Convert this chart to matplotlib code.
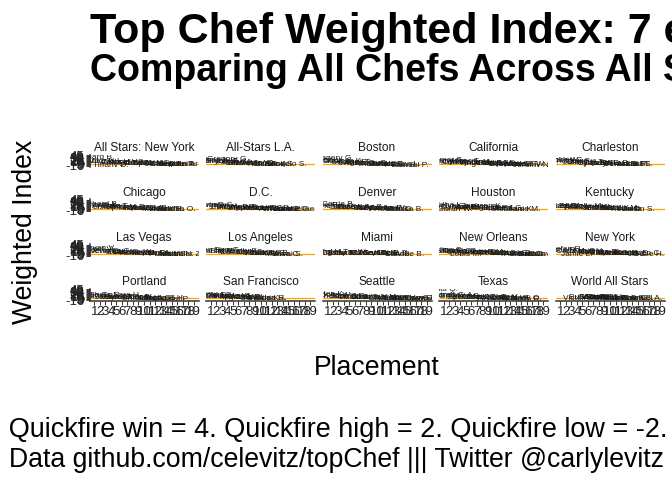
import matplotlib
matplotlib.use("Agg")
import matplotlib.pyplot as plt

plt.rcParams["font.family"] = ["Liberation Sans", "DejaVu Sans"]

# ---------------- data ----------------
season_names = ["All Stars: New York", "All-Stars L.A.", "Boston", "California", "Charleston",
                "Chicago", "D.C.", "Denver", "Houston", "Kentucky",
                "Las Vegas", "Los Angeles", "Miami", "New Orleans", "New York",
                "Portland", "San Francisco", "Seattle", "Texas", "World All Stars"]

allstars_ny_chefs = ["Richard B.", "Mike I.", "Antonia L.", "Tiffany D.", "Carla H.", "Marcel V.", "Angelo S.",
                     "Fabio V.", "Dale L.", "Tre W.", "Spike M.", "Tiffani F.", "Jamie L.", "Casey T.",
                     "Elia A.", "Stephen A.", "Dale T.", "Jennifer C."]
allstars_ny_index = [33, 14, 10, -7, 8, 6, 5, 3, 4, 1, 2, 0, -1, -2, -3, -4, -3, -5]

allstars_la_chefs = ["Melissa K.", "Stephanie C.", "Bryan V.", "Gregory G.", "Kevin G.", "Karen A.", "Brian M.",
                     "Lee Anne W.", "Jennifer C.", "Nini N.", "Lisa F.", "Jamie L.", "Eric A.", "Joe S.", "Angelo S."]
allstars_la_index = [20, 13, 10, 24, 8, 6, 3, 2, 0, -1, -2, -3, -2, -4, -5]

boston_chefs = ["Mei L.", "Gregory G.", "Doug A.", "Melissa K.", "George P.", "Katsuji T.", "Adam C.",
                "Keriann v.", "Aaron G.", "Katie W.", "Stacy C.", "James R.", "Joy C.", "Rebecca L.",
                "Ron E.", "Samuel P."]
boston_index = [18, 26, 10, 14, 6, 8, 3, 1, 2, -1, -2, -3, -4, -5, -6, -7]

california_chefs = ["Jeremy F.", "Amar S.", "Carl D.", "Kwame O.", "Isaac T.", "Marjorie M.", "Karen A.",
                    "Angelina B.", "Jason S.", "Phillip F.", "Garret F.", "Chad W.", "Grayson S.",
                    "Frances T.", "Wesley T.", "Giselle W.", "Jeremy N."]
california_index = [14, 17, 8, 9, 10, 6, 5, 3, 2, 1, 0, -2, -1, -3, -4, -5, -6]

charleston_chefs = ["Brooke W.", "Shirley C.", "Sheldon S.", "John T.", "Emily H.", "Katsuji T.", "Sylva S.",
                    "Casey T.", "Jamie L.", "Jim S.", "Silvia B.", "Gerald S.", "Amanda B.", "Annie P.",
                    "Sam T.", "BJ S."]
charleston_index = [20, 16, 14, 7, 8, 5, 4, 2, 3, 1, 0, -1, -2, -3, -4, -5]

chicago_chefs = ["Stephanie I.", "Richard B.", "Lisa F.", "Antonia L.", "Dale T.", "Spike M.", "Andrew D.",
                 "Nikki C.", "Ryan S.", "Mark G.", "Jennifer B.", "Zoi A.", "Manuel T.", "Valerie B.",
                 "Erik H.", "Nimma O."]
chicago_index = [16, 24, 7, 10, 13, 6, 5, 3, 2, 1, 0, -1, -2, -3, -4, -5]

dc_chefs = ["Kevin S.", "Angelo S.", "Ed C.", "Kelly L.", "Tiffany D.", "Amanda B.", "Alex R.", "Stephen H.",
            "Tamesha W.", "Kenny G.", "Andrea C.", "Timothy D.", "Arnold M.", "Tracey B.", "John P.",
            "Lynne G.", "Jacqueline L."]
dc_index = [15, 18, 8, 10, 7, 6, 5, 3, 2, 1, 0, -1, -2, -3, -4, -5, -6]

denver_chefs = ["Joe F.", "Adrienne C.", "Carrie B.", "Chris S.", "Bruce K.", "Fatima A.", "Claudette Z.",
                "Joe S.", "Tanya H.", "Tyler A.", "Lee Anne W.", "Laura C.", "Rogelio G.", "Jim S.",
                "Melissa B."]
denver_index = [14, 12, 21, 8, 7, 6, 5, 3, 2, 1, 0, -1, -2, -3, -4]

houston_chefs = ["Buddha L.", "Evelyn G.", "Sarah W.", "Damarr B.", "Nick W.", "Luke K.", "Ashleigh S.",
                 "Jackson K.", "Monique F.", "Jo C.", "Robert L.", "Jae J.", "Leia G.", "Stephanie M.",
                 "Sam K."]
houston_index = [15, 13, -2, 8, 7, 6, 5, 11, 3, 2, 1, 0, -1, -2, -3]

kentucky_chefs = ["Kelsey B.", "Sara B.", "Eric A.", "Nini N.", "Michelle M.", "Adrienne W.", "David V.",
                  "Justin S.", "Brother L.", "Pablo L.", "Eddie K.", "Natalie M.", "Kevin D.", "Jeff R.",
                  "Caitlin S."]
kentucky_index = [13, 12, 10, 8, 11, 6, 5, 3, 2, 1, 0, -1, -2, -10, -4]

lasvegas_chefs = ["Michael V.", "Bryan V.", "Kevin G.", "Jennifer C.", "Eli K.", "Robin L.", "Ash F.",
                  "Laurine W.", "Ashley M.", "Mike I.", "Hector S.", "Ron D.", "Eve A.", "Preeti M.",
                  "Jesse S.", "Mattin N.", "Jennifer Z."]
lasvegas_index = [22, 25, 11, 9, 7, 6, 5, 3, 2, 1, 0, -1, -2, -3, -4, -5, -6]

la_chefs = ["Ilan H.", "Marcel V.", "Elia A.", "Sam T.", "Cliff C.", "Michael M.", "Betty F.", "Josie S.",
            "Mia G.", "Frank T.", "Carlos F.", "Emily C.", "Otto B.", "Marisa C.", "Suyai S."]
la_index = [14, 12, 8, 13, 7, 6, 10, 3, 2, 1, 0, -1, -2, -3, -4]

miami_chefs = ["Hung H.", "Dale L.", "Casey T.", "Brian M.", "Sara M.", "Tre W.", "CJ J.", "Howie K.",
               "Joey P.", "Sara N.", "Camille B.", "Lia B.", "Micah E.", "Clay B.", "Sandee B."]
miami_index = [4, 3, 2, 1, 2, 3, 0, 1, -1, 0, -2, -1, -2, -3, -4]

neworleans_chefs = ["Nicholas E.", "Nina C.", "Shirley C.", "Carlos G.", "Louis M.", "Stephanie C.",
                    "Brian H.", "Justin D.", "Travis M.", "Bene B.", "Patty V.", "Sara J.", "Michael S.",
                    "Janine B.", "Aaron C.", "Jason C.", "Bret C.", "Ramon G.", "Jimmy C."]
neworleans_index = [12, 15, 9, 8, -5, 7, 6, 5, 3, 2, 1, 0, -1, -2, -3, -4, -5, -6, -7]

newyork_chefs = ["Hosea R.", "Stefan R.", "Carla H.", "Jamie L.", "Leah C.", "Fabio V.", "Jeff M.",
                 "Radhika D.", "Ariane D.", "Eugene C.", "Daniel H.", "Melissa H.", "Alex E.",
                 "Patrick D.", "Jill Z.", "Lauren C.", "Gene H."]
newyork_index = [16, 22, 12, -3, 9, 8, 6, 4, 3, 2, 1, 0, -1, -2, -3, -2, -4]

portland_chefs = ["Gabe E.", "Dawn B.", "Shota N.", "Jamie T.", "Maria M.", "Byron G.", "Sara H.",
                  "Avishar B.", "Chris V.", "Brittanny A.", "Kiki L.", "Nelson G.", "Sasha G.",
                  "Roscoe H.", "Gabriel P."]
portland_index = [14, 10, 16, 6, 5, 4, 15, 3, 2, 1, 0, -1, -2, -3, -4]

sf_chefs = ["Harold D.", "Tiffani F.", "Dave M.", "Lee Anne W.", "Stephen A.", "Miguel M.", "Andrea B.",
            "Lisa P.", "Ken L.", "Candice K.", "Cynthia S.", "Brian H."]
sf_index = [12, 14, 10, 9, 8, 6, 5, 3, 2, 1, 0, -1]

seattle_chefs = ["Kristen K.", "Brooke W.", "Sheldon S.", "Josh V.", "Stefan R.", "Lizzie B.", "CJ J.",
                 "John T.", "Kuniko Y.", "Danyele M.", "Carla P.", "Tyler W.", "Micah F.", "Eliza G.",
                 "Bart V.", "Anthony G.", "Chrissy C.", "Kayne R.", "Jeffrey J."]
seattle_index = [18, 12, 10, 8, 7, 6, 5, 4, 3, 2, 1, 0, -1, -2, -1, -3, -2, -3, -4]

texas_chefs = ["Paul Q.", "Sarah G.", "Lindsay A.", "Grayson S.", "Edward L.", "Beverly K.", "Chris J.",
               "Chris C.", "Heather T.", "Ty-Lor B.", "Nyesha A.", "Chuy V.", "Dakota W.", "Richie F.",
               "Whitney O.", "Keith R."]
texas_index = [45, 14, 12, 10, 6, 5, 4, 3, 2, 1, 0, 6, -1, -2, -3, -4]

world_chefs = ["Buddha L.", "Sara B.", "Gabri R.", "Tom G.", "Amar S.", "Charbel H.", "Dale M.",
               "Begona R.", "Ali G.", "May P.", "Sylwia S.", "Luciana B.", "Nicole G.", "Dawn B.",
               "Victoire G.", "Samuel A."]
world_index = [5, 4, 4, 3, 3, 2, 2, 1, 1, 0, 1, 0, -1, 0, -3, -1]
world_placement = [6, 7, 7, 8, 8, 9, 9, 10, 10, 11, 12, 13, 14, 15, 5, 16]

x_breaks = [1, 2, 3, 4, 5, 6, 7, 8, 9, 10, 11, 12, 13, 14, 15, 16, 17, 18, 19]
y_breaks = [-10, -5, 0, 5, 10, 15, 20, 25, 30, 35, 40, 45]
reference_line = 0

season_chefs = [allstars_ny_chefs, allstars_la_chefs, boston_chefs, california_chefs, charleston_chefs,
                chicago_chefs, dc_chefs, denver_chefs, houston_chefs, kentucky_chefs,
                lasvegas_chefs, la_chefs, miami_chefs, neworleans_chefs, newyork_chefs,
                portland_chefs, sf_chefs, seattle_chefs, texas_chefs, world_chefs]
season_index = [allstars_ny_index, allstars_la_index, boston_index, california_index, charleston_index,
                chicago_index, dc_index, denver_index, houston_index, kentucky_index,
                lasvegas_index, la_index, miami_index, neworleans_index, newyork_index,
                portland_index, sf_index, seattle_index, texas_index, world_index]

# ---------------- layout ----------------
W, H = 672, 480
fig = plt.figure(figsize=(6.72, 4.8), dpi=100)

col_x0, col_pitch, pw = 89.5, 116.5, 109.0
row_y0, row_pitch, ph = 154.5, 44.8, 12.0
ncol, nrow = 5, 4
ink = "#1a1a1a"
axis_col = "#333333"

ymin, ymax = min(y_breaks), max(y_breaks)
yexp = 0.05 * (ymax - ymin)
xexp = 0.05 * (max(x_breaks) - min(x_breaks))

for k, name in enumerate(season_names):
    r, c = divmod(k, ncol)
    x0 = col_x0 + c * col_pitch
    yt = row_y0 + r * row_pitch
    ax = fig.add_axes([x0 / W, 1 - (yt + ph) / H, pw / W, ph / H])
    ax.set_xlim(min(x_breaks) - xexp, max(x_breaks) + xexp)
    ax.set_ylim(ymin - yexp, ymax + yexp)
    ax.patch.set_alpha(0)
    for s in ["top", "right"]:
        ax.spines[s].set_visible(False)
    ax.spines["left"].set_visible(c == 0)
    ax.spines["bottom"].set_visible(r == nrow - 1)
    for s in ["left", "bottom"]:
        ax.spines[s].set_color(axis_col)
        ax.spines[s].set_linewidth(1.1)
    ax.axhline(reference_line, color="#FFA500", lw=0.9, zorder=1)
    chefs = season_chefs[k]
    vals = season_index[k]
    places = world_placement if name == "World All Stars" else list(range(1, len(chefs) + 1))
    for p, v, n in zip(places, vals, chefs):
        ax.text(p, v, n, fontsize=6, color=ink, ha="center", va="center", clip_on=True, zorder=2)
    ax.set_xticks(x_breaks)
    ax.set_yticks(y_breaks)
    ax.tick_params(length=2.7, width=0.7, color=axis_col, labelsize=9.5, labelcolor="#222222", pad=1.0)
    if r == nrow - 1:
        ax.set_xticklabels([str(b) for b in x_breaks])
    else:
        ax.tick_params(axis="x", bottom=False, labelbottom=False)
    if c == 0:
        ax.set_yticklabels([str(b) for b in y_breaks])
    else:
        ax.tick_params(axis="y", left=False, labelleft=False)
    fig.text((x0 + pw / 2) / W, 1 - (yt - 6.5) / H, name, ha="center", va="center",
             fontsize=8.6, color="#1a1a1a")

# titles
fig.text(90 / W, 1 - 43 / H, "Top Chef Weighted Index: 7 episodes into World All Stars",
         fontsize=31, fontweight="bold", ha="left", va="baseline", color="black")
fig.text(90 / W, 1 - 81 / H, "Comparing All Chefs Across All Seasons",
         fontsize=27, fontweight="bold", ha="left", va="baseline", color="black")

fig.text(25 / W, 1 - 232 / H, "Weighted Index", rotation=90, fontsize=19.2, ha="center", va="center")
fig.text(377 / W, 1 - 368 / H, "Placement", fontsize=19.2, ha="center", va="center")

fig.text(668 / W, 1 - 437 / H,
         "Elimination win = 7. Elimination high = 3. Elimination low = -3. Quickfire win = 4. "
         "Quickfire high = 2. Quickfire low = -2.",
         fontsize=19.45, ha="right", va="baseline")
fig.text(336.5 / W, 1 - 467 / H, "Data github.com/celevitz/topChef ||| Twitter @carlylevitz",
         fontsize=19.2, ha="center", va="baseline")

fig.savefig("out.png", dpi=100)
